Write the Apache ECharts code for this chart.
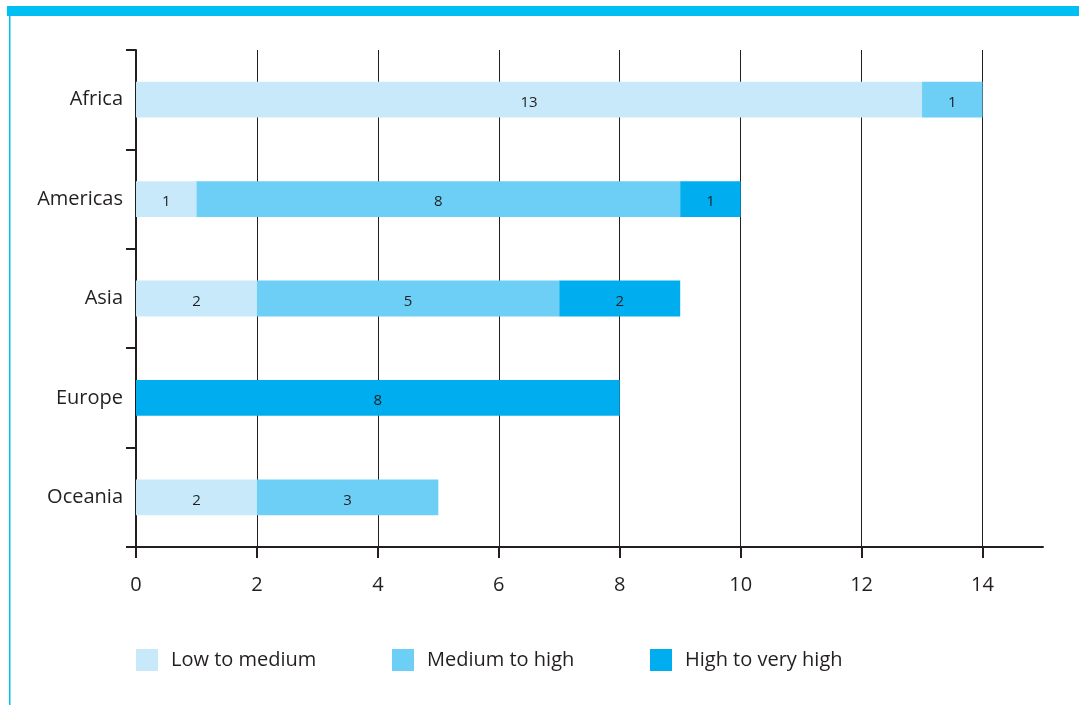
<!DOCTYPE html>
<html>
<head>
<meta charset="utf-8">
<script src="https://cdn.jsdelivr.net/npm/echarts@6/dist/echarts.min.js"></script>
<style>
  html, body { margin: 0; padding: 0; background: #fff; }
  #main { width: 1079px; height: 705px; }
</style>
</head>
<body>
<div id="main"></div>
<script>
// regions, top to bottom
const regions = ['Africa', 'Americas', 'Asia', 'Europe', 'Oceania'];
// counts per risk level
const lowToMedium = [13, 1, 2, 0, 2];
const mediumToHigh = [1, 8, 5, 0, 3];
const highToVeryHigh = [0, 1, 2, 8, 0];
const xTicks = [0, 2, 4, 6, 8, 10, 12, 14];

const ink = '#231f20';
const levels = [
    { name: 'Low to medium', data: lowToMedium, color: '#c7e9f9', left: 136 },
    { name: 'Medium to high', data: mediumToHigh, color: '#6dcff6', left: 392 },
    { name: 'High to very high', data: highToVeryHigh, color: '#00aeef', left: 650 }
];

const myChart = echarts.init(document.getElementById('main'));

const option = {
    animation: false,
    textStyle: { fontFamily: 'Open Sans', color: ink },
    grid: { left: 136, right: 36, top: 50, bottom: 158, containLabel: false },
    graphic: [
        { type: 'rect', shape: { x: 7, y: 6, width: 1072, height: 10 }, style: { fill: '#00bff3' }, silent: true },
        { type: 'rect', shape: { x: 9, y: 16, width: 1.5, height: 689 }, style: { fill: '#00bff3' }, silent: true }
    ],
    legend: levels.map(l => ({
        data: [l.name],
        left: l.left,
        top: 649,
        padding: 0,
        itemWidth: 22,
        itemHeight: 22,
        icon: 'rect',
        selectedMode: false,
        textStyle: { fontFamily: 'Open Sans', fontSize: 20, color: ink, padding: [3, 0, 0, 8] }
    })),
    xAxis: {
        type: 'value',
        min: 0,
        max: 15,
        axisLine: { show: true, lineStyle: { color: ink, width: 2 } },
        axisTick: { show: true, length: 11, customValues: xTicks, lineStyle: { color: ink, width: 2 } },
        axisLabel: { customValues: xTicks, fontSize: 20, color: ink, margin: 28, fontFamily: 'Open Sans' },
        splitLine: { show: true, lineStyle: { color: ink, width: 1 } }
    },
    yAxis: {
        type: 'category',
        data: regions,
        inverse: true,
        axisLine: { show: true, lineStyle: { color: ink, width: 2 } },
        axisTick: { show: true, length: 10, lineStyle: { color: ink, width: 2 } },
        axisLabel: { fontSize: 20, color: ink, margin: 13, fontFamily: 'Open Sans', padding: [6, 0, 0, 0] }
    },
    series: levels.map(l => ({
        name: l.name,
        type: 'bar',
        stack: 'total',
        barWidth: '36%',
        data: l.data,
        itemStyle: { color: l.color },
        label: {
            show: true,
            position: 'inside',
            fontSize: 15,
            fontFamily: 'Open Sans',
            color: ink,
            offset: [0, 3],
            formatter: p => (p.value ? p.value : '')
        }
    }))
};

myChart.setOption(option);
</script>
</body>
</html>
